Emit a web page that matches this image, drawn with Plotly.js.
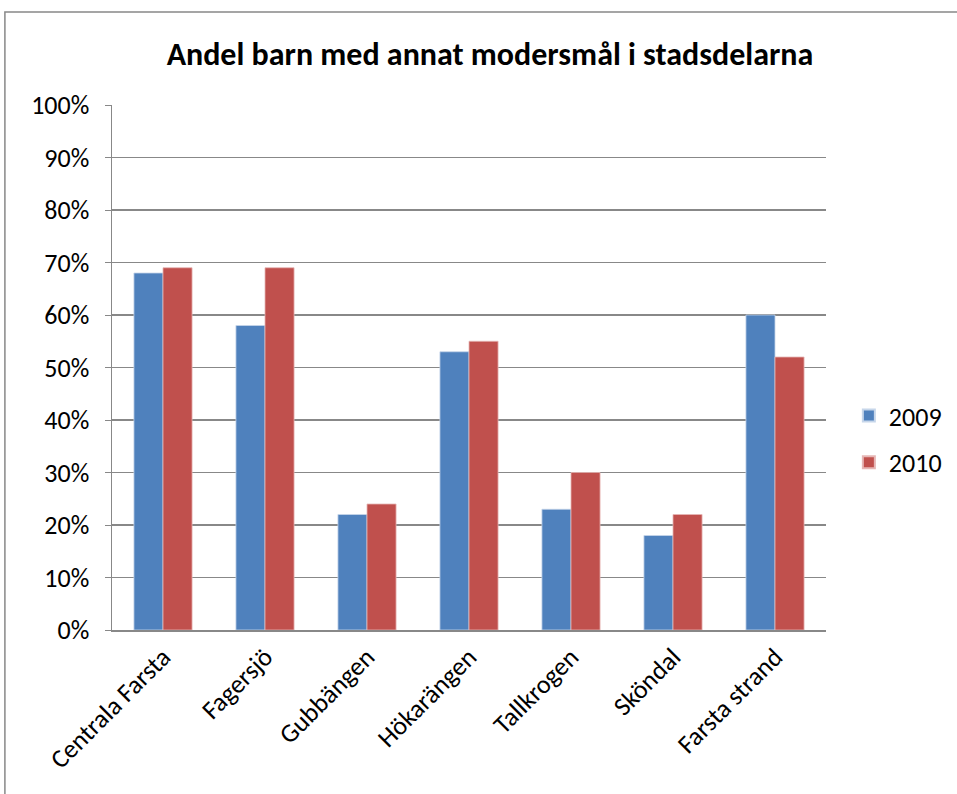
<!DOCTYPE html>
<html><head><meta charset="utf-8">
<script src="https://cdn.plot.ly/plotly-3.0.1.min.js"></script>
<style>body{margin:0;background:#fff}#chart{width:957px;height:794px}</style>
</head><body><div id="chart"></div>
<script>
const categories = ["Centrala Farsta","Fagersjö","Gubbängen","Hökarängen","Tallkrogen","Sköndal","Farsta strand"];
const values2009 = [0.68,0.58,0.22,0.53,0.23,0.18,0.60];
const values2010 = [0.69,0.69,0.24,0.55,0.30,0.22,0.52];
const tickVals = [0,0.1,0.2,0.3,0.4,0.5,0.6,0.7,0.8,0.9,1.0];
const tickText = ["0%","10%","20%","30%","40%","50%","60%","70%","80%","90%","100%"];

const font = "Carlito, 'Liberation Sans Narrow', 'Open Sans', sans-serif";
const traces = [
  {type:'bar', name:'2009', legendgroup:'a', x:categories, y:values2009, marker:{color:'#4F81BD', line:{color:'#C6D6EA', width:0.8}}},
  {type:'bar', name:'2010', legendgroup:'b', x:categories, y:values2010, marker:{color:'#C0504D', line:{color:'#E6B6B5', width:0.8}}}
];
const layout = {
  width:957, height:794,
  margin:{l:112, r:131, t:105, b:164},
  paper_bgcolor:'#fff', plot_bgcolor:'#fff',
  barmode:'group', bargap:0.43, bargroupgap:0,
  font:{family:font, size:26, color:'#000'},
  title:{text:'<b>Andel barn med annat modersmål i stadsdelarna</b>', font:{family:font, size:32, color:'#000'}, x:0.512, xanchor:'center', y:0.932, yanchor:'middle'},
  xaxis:{tickangle:-45, tickfont:{family:font, size:26}, showline:true, linecolor:'#888', linewidth:1.5, showgrid:false, ticks:'', automargin:false},
  yaxis:{range:[0,1], tickvals:tickVals, ticktext:tickText, tickfont:{family:font, size:26}, showgrid:true, gridcolor:'#888', gridwidth:1.5, showline:true, linecolor:'#888', linewidth:1.5, ticks:'outside', ticklen:6, tickcolor:'#888', ticklabelstandoff:10, zeroline:false, automargin:false},
  legend:{xref:'container', yref:'container', x:0.887, xanchor:'left', y:0.447, yanchor:'middle', font:{family:font, size:26}, tracegroupgap:10, itemsizing:'constant'},
  showlegend:true,
  shapes:[{type:'rect', xref:'paper', yref:'paper', x0:-0.15, x1:2, y0:-1, y1:1.177, line:{color:'#888', width:1.5}, fillcolor:'rgba(0,0,0,0)'}]
};
Plotly.newPlot('chart', traces, layout, {displayModeBar:false, staticPlot:true});
</script></body></html>
